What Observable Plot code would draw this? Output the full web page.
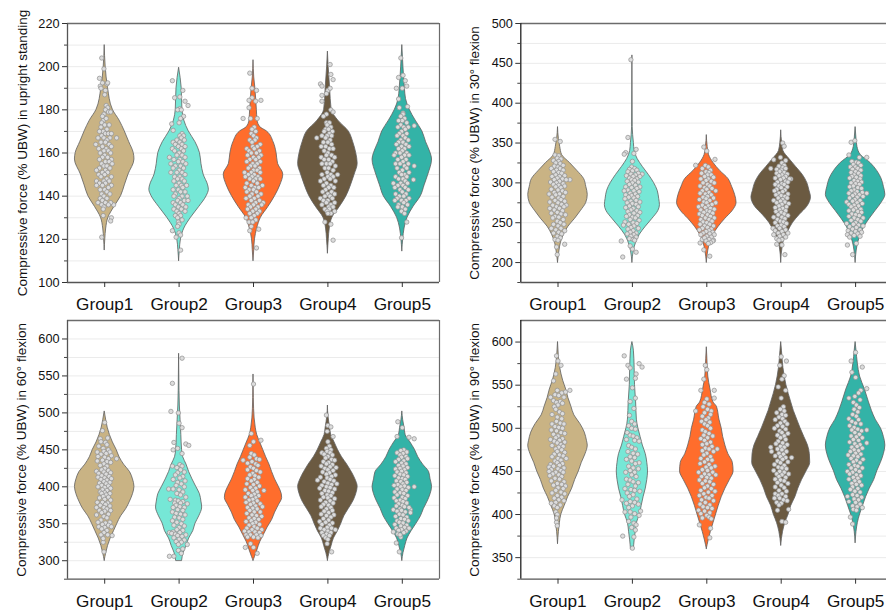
<!DOCTYPE html>
<html><head><meta charset="utf-8">
<script src="https://cdn.jsdelivr.net/npm/d3@7"></script>
<script src="https://cdn.jsdelivr.net/npm/@observablehq/plot@0.6"></script>
<style>html,body{margin:0;background:#fff}#fig{position:relative;width:886px;height:615px;overflow:hidden}#fig svg{position:absolute;max-width:none;overflow:hidden}</style>
</head><body><div id="fig"></div>
<script>
const groups = ["Group1","Group2","Group3","Group4","Group5"];
const colors = ["#C9B384","#76E7D6","#FF6D2C","#6B5A41","#33B3A7"];

// Violin outlines: [value, half width in % of the group spacing]
const a1v=[[210,0],[200,1.3],[190,4.5],[180,11],[175,20],[170,27],[165,33],[160,39],[157,40],[150,32],[145,27],[140,22],[135,13],[130,5],[125,2],[120,.8],[115,0]];
const a2v=[[199.5,0],[190,3.5],[180,4.5],[175,7],[170,13],[165,22],[160,28],[155,30],[150,33],[145,39],[143,40],[140,37],[135,27],[130,16],[125,7],[120,2.5],[115,1],[110,0]];
const a3v=[[203,0],[195,1],[190,2.5],[180,4.5],[175,5.5],[172,9],[170,18],[165,27],[160,31],[155,33],[150,40],[145,36],[140,29],[135,20],[130,10],[125,5],[120,2],[115,1],[110,0]];
const a4v=[[207,0],[200,1],[190,3],[180,5],[175,14],[170,28],[165,34],[160,38],[155,40],[150,36],[145,31],[140,25],[135,16],[130,6],[125,2.5],[120,1.2],[113.5,0]];
const a5v=[[210,0],[200,1.5],[190,3.5],[185,5],[180,10],[175,18],[170,27],[165,32],[160,38],[157,40],[150,35],[145,30],[140,25],[135,15],[130,7],[125,3],[120,1.2],[114.5,0]];
const b1v=[[370,0],[355,1.2],[345,3],[335,5.5],[325,16],[315,26],[305,35],[295,38],[285,40],[275,38],[265,31],[255,23],[245,14],[235,8],[225,4],[215,2],[200,0]];
const b2v=[[460,0],[370,.4],[350,2],[340,3],[330,7],[320,14],[310,22],[300,29],[290,34],[280,36],[272,37],[265,35],[255,27],[245,18],[235,10],[225,5],[215,2],[200,0]];
const b3v=[[360,0],[345,1.2],[335,3],[325,9],[315,18],[305,29],[295,34],[285,38],[275,40],[265,35],[255,25],[245,16],[235,9],[225,4.5],[215,2],[200,0]];
const b4v=[[366,0],[350,1.2],[340,3],[330,11],[320,20],[310,29],[300,35],[290,38],[282,40],[270,35],[260,25],[250,16],[240,10],[230,4.5],[220,2],[200,0]];
const b5v=[[370,0],[355,1.2],[345,2.5],[335,7],[325,20],[315,29],[305,35],[295,38],[285,40],[275,35],[265,27],[255,19],[245,12],[235,7],[225,3.5],[215,1.5],[200,0]];
const c1v=[[502,0],[490,2],[480,4],[470,7],[460,11],[450,16],[440,20],[430,26],[420,34],[410,38],[400,40],[390,38],[380,34],[370,29],[360,22],[350,17],[340,12.5],[330,8],[320,4.5],[310,2],[300,0]];
const c2v=[[580,0],[530,.5],[510,1],[490,2],[470,3],[450,4],[440,5.5],[430,10],[420,13.5],[410,18],[400,23],[390,28],[380,30],[372,31],[360,27],[350,22],[340,19],[330,13.5],[320,10],[310,6],[300,4]];
const c3v=[[552,0],[520,.4],[505,.8],[480,3],[470,5],[460,9],[450,13],[440,17],[430,21.5],[420,25],[410,29],[400,34],[390,38],[385,38.5],[375,34],[365,29],[355,25],[345,19],[335,14],[325,9],[315,5.5],[305,2],[300,0]];
const c4v=[[510,0],[495,.8],[480,3],[470,4.5],[460,9],[450,13.5],[440,19],[430,26],[420,32],[410,37],[400,40],[390,38],[380,34],[370,28],[360,22],[350,18],[340,13.5],[330,8],[320,5],[310,2],[300,0]];
const c5v=[[502,0],[490,1.2],[480,3],[470,4.5],[460,11],[450,17],[440,21.5],[430,28],[420,36],[410,38],[400,40],[390,38],[380,34],[370,29],[360,25],[350,19],[340,12.5],[330,7],[320,4],[310,1.5],[300,0]];
const d1v=[[600,0],[585,1],[570,3],[555,7],[545,11],[535,14],[525,18],[515,22],[505,30],[495,36],[485,39],[480,40],[470,37],[460,32],[450,28],[440,23],[430,19],[420,13.5],[410,9],[400,4.5],[390,2.5],[380,1.2],[366,0]];
const d2v=[[600,0],[590,2],[570,3],[550,3.5],[530,5],[510,6],[500,8],[490,11],[480,14],[470,18],[460,20],[450,21],[440,20],[430,18],[420,15],[410,12.5],[400,10],[390,6],[380,4.5],[370,3],[360,2]];
const d3v=[[594,0],[580,.8],[560,2],[545,5],[530,9],[525,13.5],[510,17],[500,20],[490,22],[480,25],[470,29],[460,35],[450,36],[440,31],[430,25],[420,20],[410,16],[400,12.5],[390,9],[380,5.5],[370,2.5],[360,0]];
const d4v=[[600,0],[590,1],[570,3],[550,7],[530,13.5],[520,17],[510,21.5],[500,26],[490,31],[480,36],[470,38.5],[460,39],[450,34],[440,28],[430,23],[420,19],[410,13.5],[400,10],[390,5.5],[380,2.5],[364,0]];
const d5v=[[600,0],[590,1.2],[575,3],[560,6],[545,12.5],[530,18],[520,22],[510,27],[500,34],[490,38],[480,40],[470,38],[460,34],[450,29],[440,25],[430,19],[420,14],[410,10],[400,6],[390,3],[380,1.2],[367,0]];

// Scatter: [offset from the group centre in % of spacing, value]
const a1d=[[-4,204],[-1,199],[-7,194.6],[3,192],[-6,191],[-5,190],[1,189],[-3,192.5],[0,187],[4,192.5],[16,167],[9,130],[8,128.5],[-2,131],[-4,121],[12,136],[2,182],[4,181],[1,180],[5,179],[-1,178],[-3,177],[8,179],[-2,175],[-4,174],[2,176],[0,173],[-5,172],[6,173],[3,171],[-2,170],[-7,170],[1,169],[5,169],[9,169],[-4,168],[7,167],[-1,167],[3,166],[-9,167],[-5,165],[1,165],[6,164],[-3,163],[-12,164],[9,163],[-8,162],[2,162],[-1,161],[5,161],[-6,160],[8,160],[0,159],[-3,158],[4,158],[9,157],[-7,157],[1,156],[6,156],[-4,155],[-1,154],[3,154],[10,155],[-7,153],[7,153],[1,152],[-11,152],[-3,151],[4,151],[-8,150],[0,150],[9,149],[-5,149],[3,148],[-1,147],[6,147],[-11,147],[-7,146],[1,146],[9,145],[-3,145],[-11,145],[5,144],[-6,143],[0,143],[3,142],[-4,141],[7,141],[-1,140],[-6,139],[3,139],[-3,138],[1,137],[8,137],[-9,137],[-4,136],[5,136],[-1,135],[-2,134]];
const a2d=[[-9,193.5],[5,189],[-6,185.6],[1,186],[8,184],[12,182],[1,180.5],[-2,180],[3,180],[6,177],[2,176],[0,174],[-10,173.5],[-8,170.5],[-9,124],[0,123],[-4,121],[2,122],[2,115],[4,169],[1,168],[6,168],[3,167],[-3,166],[7,166],[-8,165],[1,165],[4,164],[-5,164],[8,163],[-1,163],[-9,162],[3,162],[6,161],[-6,161],[0,160],[-13,158],[4,159],[-3,159],[8,158],[1,157],[-7,157],[5,156],[-1,156],[-11,155],[9,155],[2,154],[-5,154],[-8,153],[6,153],[0,152],[4,151],[-3,151],[-11,151],[8,150],[1,149],[-6,149],[4,148],[-2,148],[7,147],[-7,147],[0,146],[3,145],[10,145],[-4,145],[-8,143],[5,144],[-1,143],[8,142],[2,142],[-5,141],[11,140],[-7,140],[4,140],[0,139],[-2,138],[7,138],[12,138],[-8,137],[2,137],[5,136],[-5,136],[9,135],[-1,135],[-7,134],[3,134],[-3,133],[8,133],[0,132],[-5,131],[2,131],[-2,130],[4,129],[-1,128],[0,127],[-2,126]];
const a3d=[[-5,197],[-2,190],[4,189],[-2,185.6],[-6,184.4],[10,184.4],[3,184],[-6,181],[-14,176],[-4,176],[5,176],[-3,126],[7,124.7],[-5,124],[4,116],[1,172],[-2,171],[3,170],[-3,169],[0,168],[4,167],[-5,166],[2,166],[-2,165],[9,164],[5,163],[-1,163],[-9,162],[1,162],[8,161],[-6,161],[4,160],[-3,160],[10,159],[-8,159],[0,158],[7,158],[-5,157],[3,157],[-9,156],[9,156],[-1,155],[5,155],[-4,154],[2,154],[8,153],[-7,153],[0,152],[5,152],[-3,151],[9,151],[-12,151],[1,150],[-7,150],[6,149],[-2,149],[-11,149],[3,148],[-5,148],[9,148],[0,147],[-9,146],[5,146],[-3,145],[12,145],[2,144],[-11,144],[7,144],[-6,143],[0,143],[4,142],[-9,142],[-2,141],[10,141],[6,140],[-5,140],[1,139],[-10,139],[8,138],[-3,138],[3,137],[13,137],[-7,136],[11,136],[0,136],[6,135],[-4,135],[-8,134],[3,134],[8,133],[-1,133],[-5,132],[5,132],[1,131],[-10,130],[-3,130],[3,129],[-6,128],[-1,128]];
const a4d=[[3,201],[4,196.4],[7,194],[-10,192],[-8,191],[0,189],[3,190],[-2,187.5],[-8,186.7],[-8,184],[4,180],[7,179],[-2,178],[-6,177],[-15,167],[-4,128],[4,127],[7,119.6],[-2,174],[2,174],[-1,173],[4,172],[-3,171],[1,171],[6,170],[-5,170],[2,169],[-1,168],[5,168],[-8,168],[-3,167],[3,166],[-6,165],[0,165],[5,164],[-3,163],[-9,163],[2,162],[7,162],[-5,161],[0,160],[-2,159],[5,159],[-9,158],[9,158],[1,157],[-5,157],[6,156],[-2,155],[-8,155],[3,155],[10,154],[-4,153],[1,153],[7,152],[-1,151],[4,150],[-8,150],[13,150],[0,149],[7,149],[-5,148],[3,148],[10,147],[-10,147],[-2,146],[4,145],[-6,145],[1,144],[8,144],[-3,143],[5,142],[-7,142],[0,141],[9,141],[-4,140],[3,140],[-10,139],[6,139],[0,138],[-6,138],[9,137],[-2,137],[4,136],[-8,136],[1,135],[7,135],[-4,134],[2,134],[9,133],[-1,133],[4,132],[0,132]];
const a5d=[[-2,204],[1,196],[-5,195],[4,193.5],[6,191],[-8,190],[0,190],[-5,185],[7,181.5],[-4,181],[1,178.5],[16,172.6],[16,154],[15,147.6],[-12,146],[6,128],[-1,120.7],[1,178],[-2,177],[3,176],[0,175],[-5,175],[6,174],[-2,173],[2,172],[-6,172],[8,172],[4,171],[-1,170],[-4,169],[6,169],[1,168],[-7,168],[4,167],[-2,166],[8,166],[-5,165],[1,165],[5,164],[-8,164],[-1,163],[9,163],[3,162],[-5,162],[0,161],[6,160],[-9,160],[-3,160],[3,159],[-11,159],[9,159],[-1,158],[-6,157],[5,157],[1,156],[-9,155],[8,155],[-3,155],[3,154],[-7,153],[6,153],[0,152],[-4,151],[9,151],[3,150],[-1,150],[-9,149],[6,149],[1,148],[-5,148],[4,147],[-2,146],[7,146],[-6,145],[1,145],[-10,144],[4,144],[-3,143],[8,143],[0,142],[-9,141],[5,141],[-4,140],[2,140],[9,139],[-7,139],[-1,138],[5,138],[-10,138],[2,137],[-5,136],[7,136],[0,135],[4,134],[-6,135],[-1,133],[3,132]];
const b1d=[[-4,354.6],[3,352],[16,304],[9,223],[-2,219.6],[-1,210],[11,272],[-4,335],[1,334],[-1,331],[4,330],[-6,328],[1,327],[-3,325],[3,324],[7,322],[-5,321],[0,320],[-9,318],[3,318],[-2,316],[7,316],[-6,314],[1,313],[5,312],[-3,310],[9,309],[-8,308],[2,308],[-1,306],[6,305],[-5,304],[11,304],[2,302],[-10,301],[-2,300],[7,299],[-6,298],[1,297],[9,296],[-3,295],[4,294],[-9,292],[0,291],[6,290],[-5,288],[10,288],[2,286],[-12,286],[-3,285],[7,283],[-8,282],[1,281],[4,279],[-4,278],[9,277],[-11,276],[0,275],[5,273],[-7,272],[-2,270],[8,270],[-11,268],[2,268],[-5,266],[6,265],[-1,263],[-9,262],[4,261],[10,260],[-4,258],[1,257],[-7,256],[7,254],[-1,252],[3,250],[-6,248],[8,248],[0,246],[-9,243],[4,243],[-3,241],[9,240],[1,238],[-6,237],[5,236],[-1,233],[3,231],[-4,229],[0,228]];
const b2d=[[-2,454.5],[-6,357],[-9,338],[-11,336],[5,342],[2,337],[0,327],[-15,227],[-13,207],[5,213],[0,217],[-3,221],[13,311],[-1,320],[3,318],[-4,317],[6,316],[0,315],[-6,314],[8,312],[-2,311],[4,310],[-8,309],[1,308],[10,308],[-4,306],[6,305],[-1,304],[3,303],[-7,302],[8,301],[0,300],[-4,298],[4,297],[-9,295],[10,295],[-1,294],[6,293],[-6,291],[2,290],[-11,290],[9,289],[-3,287],[4,286],[-9,285],[-1,284],[7,283],[-5,282],[2,281],[-10,280],[5,278],[-2,277],[10,276],[-7,275],[0,274],[5,273],[-4,271],[8,270],[-9,269],[1,268],[-2,266],[6,265],[-6,264],[10,263],[2,262],[-4,260],[7,259],[-8,258],[0,257],[4,256],[-3,254],[9,253],[-10,251],[1,250],[6,249],[-5,248],[-12,247],[2,246],[-2,244],[8,243],[-6,242],[1,240],[-3,238],[5,237],[-7,236],[2,235],[-2,233],[5,232],[-4,230],[1,229],[3,228]];
const b3d=[[-4,345],[0,340],[11,329.5],[-15,322],[-9,224.6],[-4,216],[4,208],[9,228],[-6,229],[-2,322],[2,320],[-6,318],[5,316],[-1,314],[3,313],[-7,312],[1,310],[6,310],[-3,308],[9,307],[-8,305],[2,305],[-1,303],[6,302],[-5,300],[10,300],[1,298],[-9,296],[4,296],[-3,294],[7,293],[0,292],[-6,290],[12,290],[3,288],[-9,287],[-2,286],[6,285],[1,283],[-5,282],[9,281],[-1,280],[-10,279],[4,278],[-4,276],[12,275],[0,275],[7,273],[-6,272],[2,271],[-11,270],[-2,269],[5,268],[10,267],[-8,266],[0,265],[4,264],[-4,263],[8,262],[-10,261],[1,260],[-6,259],[5,258],[-2,256],[10,256],[-8,254],[3,254],[7,252],[-5,251],[0,250],[-9,248],[4,248],[9,246],[-3,246],[1,244],[-6,243],[6,242],[-10,241],[3,240],[-1,239],[8,238],[-5,237],[4,236],[10,235],[-8,235],[0,233],[6,232],[-3,231],[3,229],[8,227],[-1,227],[5,225],[2,224]];
const b4d=[[2,350],[4,346],[-1,332],[-10,329],[6,328],[-14,318],[13,305],[-6,223],[1,222],[5,210],[1,325],[4,322],[-3,321],[2,319],[6,318],[-6,317],[0,316],[-2,314],[4,313],[-6,312],[8,311],[1,310],[-3,309],[6,308],[-8,306],[3,306],[11,305],[-1,304],[6,302],[-5,301],[9,301],[1,299],[-8,298],[4,298],[-3,296],[8,295],[0,294],[-6,292],[5,291],[-9,290],[2,289],[-3,287],[9,286],[-7,285],[0,284],[5,283],[-4,281],[8,281],[2,279],[-10,278],[-1,277],[5,276],[-6,275],[10,274],[1,273],[-3,271],[7,270],[-8,269],[2,268],[-2,266],[6,265],[-7,264],[0,263],[4,261],[-4,260],[9,259],[-10,257],[1,257],[5,255],[-5,254],[-1,252],[3,251],[-8,250],[7,249],[0,247],[-5,246],[4,245],[-11,243],[-2,243],[6,241],[-8,240],[1,239],[-4,237],[9,237],[-10,235],[3,235],[-2,233],[6,232],[-6,230],[1,229],[-3,228]];
const b5d=[[-6,351],[-1,353],[-9,335],[15,332],[5,332],[15,287],[-12,276],[-11,222],[-4,210],[1,224],[-5,327],[1,326],[4,325],[-3,323],[7,322],[-7,320],[0,320],[3,318],[-4,317],[7,316],[0,314],[-6,313],[4,312],[-2,310],[7,309],[-5,308],[1,307],[-8,306],[6,305],[-2,303],[3,302],[8,301],[-6,300],[0,299],[5,298],[-3,296],[-8,295],[3,294],[8,293],[-2,291],[-6,290],[2,289],[9,288],[-9,287],[-1,286],[5,285],[-4,284],[10,283],[2,282],[-8,281],[-1,279],[6,278],[-4,277],[2,275],[9,274],[-9,273],[-2,272],[4,271],[-6,270],[0,268],[7,267],[-3,266],[-9,265],[3,264],[8,263],[-5,261],[0,260],[5,259],[-9,258],[-2,256],[10,256],[3,254],[-6,253],[7,252],[0,250],[-12,249],[-3,248],[4,247],[10,246],[-8,245],[1,244],[-4,242],[6,241],[-10,240],[0,239],[8,238],[-6,237],[3,236],[-11,235],[-2,234],[6,233],[-8,232]];
const c1d=[[0,487],[-3,476],[-6,465],[4,466],[16,438],[10,334],[-3,332],[-1,312],[-2,325],[-5,461],[1,460],[3,457],[-8,455],[-2,452],[5,450],[-1,448],[-10,447],[7,447],[2,445],[-5,444],[9,442],[-9,441],[0,440],[5,438],[-3,436],[-10,435],[3,434],[8,433],[-1,431],[-6,429],[3,428],[0,425],[-4,423],[5,422],[-11,421],[-1,420],[8,419],[-8,418],[2,417],[-4,415],[6,414],[-9,413],[0,412],[9,411],[-5,410],[3,409],[-1,407],[7,406],[-7,405],[2,404],[-4,402],[5,401],[-9,400],[0,399],[8,398],[-3,396],[3,395],[-6,393],[0,392],[-4,391],[7,391],[2,389],[-2,387],[5,386],[-7,385],[0,383],[8,382],[-10,379],[-3,379],[4,378],[1,376],[-6,375],[7,374],[-11,372],[-1,372],[3,370],[-7,368],[8,368],[0,367],[-4,365],[5,363],[-11,362],[-1,360],[3,358],[-5,355],[-9,352],[7,352],[1,351],[-3,349],[5,348],[-8,346],[9,346],[0,345],[-4,343],[3,341],[-1,338],[4,335],[-5,335],[-2,330]];
const c2d=[[4,574],[-9,540],[-11,502],[-1,500],[0,486],[4,480],[-7,460],[9,458],[13,456],[-8,450],[-2,452],[4,445],[-9,428],[11,322],[-13,306],[-7,306],[-1,314],[3,310],[5,316],[1,430],[4,428],[-3,426],[2,423],[7,420],[-2,419],[-5,416],[5,414],[1,412],[-8,410],[8,408],[-2,406],[3,404],[-4,402],[7,400],[-14,397],[-8,397],[0,396],[5,393],[-3,391],[2,389],[-12,383],[9,386],[-5,382],[-1,381],[5,380],[-6,378],[2,378],[11,377],[-4,375],[-8,372],[1,373],[7,372],[-2,369],[5,368],[-9,366],[-4,364],[2,363],[8,362],[-6,359],[0,358],[5,356],[-9,354],[-3,352],[3,350],[-7,348],[7,347],[0,345],[-3,342],[5,341],[-8,339],[1,338],[-13,338],[-10,337],[-5,336],[9,335],[-2,334],[4,333],[-7,331],[0,329],[7,328],[-4,326],[3,325],[-1,322]];
const c3d=[[0,539],[-3,472],[10,463],[0,461],[-5,456],[-14,436],[-11,318],[5,310],[0,318],[-4,323],[-3,445],[1,443],[-5,440],[4,438],[8,437],[-2,434],[-8,432],[3,431],[6,429],[-4,427],[0,425],[-8,423],[4,422],[9,420],[-1,418],[-5,416],[2,415],[7,413],[-8,411],[1,410],[-3,408],[5,406],[-9,404],[0,403],[8,401],[-4,399],[3,398],[-11,396],[-1,395],[14,395],[5,393],[-7,391],[1,390],[-3,388],[7,388],[-11,386],[3,385],[-1,383],[-6,382],[5,381],[-10,379],[0,378],[9,377],[-4,376],[3,374],[12,373],[-8,372],[-1,371],[5,370],[-5,368],[1,366],[9,366],[-9,364],[-2,362],[4,361],[11,360],[-6,358],[1,357],[7,356],[-3,354],[-10,353],[3,352],[-1,350],[8,349],[-6,348],[1,346],[-9,344],[5,344],[-2,342],[11,342],[-12,340],[-6,339],[2,339],[8,338],[-10,335],[-4,335],[4,335],[10,334],[-8,332],[0,332],[6,331]];
const c4d=[[-2,497],[0,483],[4,481],[-1,475],[7,468],[0,461],[5,312],[-1,323],[2,455],[-2,452],[4,450],[-1,448],[-8,446],[3,446],[-5,444],[6,443],[0,441],[-3,439],[5,437],[9,436],[-6,434],[1,433],[-2,431],[6,430],[-9,428],[3,427],[11,426],[-4,425],[0,423],[7,422],[-7,420],[2,419],[-2,417],[10,416],[5,414],[-10,413],[-1,412],[3,410],[-14,409],[8,408],[-5,407],[0,405],[12,404],[5,403],[-8,402],[-2,400],[3,399],[-11,398],[9,397],[-4,395],[1,394],[6,392],[-8,391],[-1,389],[4,388],[-6,386],[0,385],[9,384],[-10,382],[3,381],[-3,379],[7,378],[-6,376],[1,375],[-9,373],[4,372],[-2,370],[6,368],[-5,367],[1,365],[-9,363],[8,362],[-2,361],[4,359],[-6,357],[1,355],[-11,353],[-3,352],[6,351],[-8,349],[2,348],[-1,345],[-10,344],[5,344],[-5,342],[10,342],[0,340],[-8,338],[4,338],[-2,336],[-6,334],[2,334],[-3,331],[0,329]];
const c5d=[[-6,488],[0,480],[9,467],[16,465],[-7,468],[16,400],[-12,369],[11,369],[-8,324],[-4,312],[-2,332],[2,450],[-2,449],[6,447],[-7,446],[1,445],[-3,443],[5,441],[-1,440],[7,438],[-5,437],[2,435],[-9,434],[-1,432],[5,431],[-5,429],[1,428],[7,426],[-3,425],[-9,424],[3,423],[-1,421],[-7,420],[5,419],[-3,417],[2,416],[-10,415],[7,414],[-5,412],[0,411],[4,410],[-8,408],[-2,407],[6,406],[1,404],[-6,403],[-11,402],[3,401],[-2,400],[8,399],[-7,397],[0,396],[5,395],[-10,393],[-3,392],[2,391],[-7,389],[7,388],[0,386],[-11,385],[4,384],[-3,382],[-8,381],[1,380],[6,378],[-5,377],[0,375],[-8,374],[3,373],[9,372],[-3,370],[-1,368],[-7,367],[4,366],[11,365],[-4,363],[1,362],[-9,360],[6,359],[-2,357],[3,356],[-7,354],[8,354],[-4,352],[1,351],[-10,349],[6,348],[-2,347],[3,345],[-8,344],[9,344],[-1,342],[-5,341],[5,340],[-12,339],[2,338],[-6,336],[-3,335]];
const d1d=[[-2,584],[0,578],[4,573],[-3,563],[-6,555],[16,544],[10,542],[-1,544],[-10,536],[-2,391],[-1,387],[5,541],[-4,539],[1,538],[8,536],[-6,532],[3,531],[-2,530],[6,529],[0,527],[-5,525],[-3,522],[2,519],[6,517],[-8,516],[-1,513],[5,511],[-2,508],[3,506],[-8,505],[8,505],[-4,502],[1,501],[6,500],[-9,498],[-2,497],[4,495],[9,494],[-6,493],[0,491],[-3,489],[6,488],[-10,487],[2,486],[-5,485],[9,484],[-1,483],[4,481],[-8,480],[7,479],[1,478],[-3,476],[5,475],[-1,473],[9,472],[-5,470],[2,469],[7,468],[-8,467],[0,465],[11,465],[4,463],[-4,462],[-1,460],[6,459],[-10,458],[2,457],[-6,456],[-12,455],[8,454],[0,453],[-9,452],[4,451],[-12,450],[-3,449],[7,449],[-7,447],[1,446],[-11,445],[5,444],[-4,442],[2,441],[-9,439],[8,438],[-1,436],[5,435],[-6,434],[10,433],[0,431],[7,430],[-3,428],[4,426],[-8,425],[9,424],[-1,422],[5,420],[-5,419],[1,417],[8,416],[-3,414],[-9,413],[3,411],[-5,410],[-1,408],[-3,403],[-1,400],[-2,396]];
const d2d=[[-11,584],[9,575],[13,571],[-6,573],[-3,570],[5,563],[-8,557],[4,558],[0,547],[4,535],[-3,531],[2,523],[-4,515],[-13,375],[4,382],[2,374],[0,361],[-1,508],[3,505],[-5,503],[-1,500],[4,499],[-7,495],[-3,492],[1,491],[6,489],[-8,487],[3,486],[9,485],[-5,480],[-1,478],[4,476],[-6,473],[1,471],[7,470],[-3,467],[3,466],[-8,464],[-1,462],[9,460],[4,459],[-5,456],[1,454],[8,453],[-3,451],[-9,449],[3,449],[-1,446],[5,444],[-8,441],[-3,440],[1,438],[8,437],[-6,435],[4,433],[-10,430],[-2,429],[3,428],[10,427],[-7,425],[1,423],[-4,421],[6,418],[-14,417],[-3,415],[3,414],[-8,413],[8,412],[0,410],[-5,408],[11,404],[-10,403],[-3,403],[3,401],[9,399],[-2,397],[-5,392],[2,390],[5,388],[-1,385]];
const d3d=[[-2,573],[0,568],[-4,557],[10,544],[-8,544],[10,535],[0,534],[-15,520],[14,476],[-10,388],[5,384],[4,373],[-3,530],[3,528],[-5,525],[1,522],[6,520],[-3,518],[5,516],[-6,514],[2,512],[-1,510],[-7,508],[4,507],[-3,505],[1,503],[5,500],[-6,498],[-2,496],[3,494],[-4,492],[8,491],[1,489],[-8,488],[-3,486],[5,484],[0,482],[-6,481],[7,479],[-2,477],[3,476],[-6,474],[9,473],[0,471],[-4,469],[5,467],[-8,465],[1,464],[7,463],[-3,461],[-9,459],[3,458],[11,456],[-1,455],[6,454],[-6,452],[1,451],[-11,449],[8,449],[-3,447],[3,446],[12,446],[-7,444],[0,443],[6,442],[-10,440],[-2,439],[4,438],[-6,436],[9,435],[1,433],[-3,431],[6,430],[-8,428],[11,427],[2,426],[-4,424],[-10,422],[7,422],[-1,420],[3,419],[-7,417],[9,416],[-2,414],[-9,412],[4,411],[-5,409],[1,408],[7,407],[-11,405],[-3,404],[4,402],[-8,401],[0,399],[3,397],[-6,396],[6,395]];
const d4d=[[7,578],[0,583],[-2,573],[4,561],[1,557],[-4,548],[6,544],[0,535],[-14,478],[14,466],[10,406],[-5,405],[1,392],[6,391],[3,525],[-1,522],[4,520],[-6,518],[1,516],[6,515],[-3,513],[2,511],[-8,510],[5,508],[-1,506],[8,505],[-5,503],[2,502],[-9,500],[6,499],[-2,497],[1,495],[9,494],[-5,492],[4,491],[-1,489],[6,487],[-4,485],[2,483],[-7,482],[8,481],[-1,479],[4,478],[-5,476],[1,475],[-13,473],[7,473],[-3,471],[3,470],[-8,468],[-1,467],[6,466],[2,464],[-5,462],[9,461],[-1,460],[-9,458],[4,457],[-4,455],[1,454],[7,453],[-10,451],[-2,450],[4,449],[-6,447],[10,447],[1,446],[-3,444],[6,443],[-8,441],[-1,440],[4,439],[-5,437],[9,436],[0,434],[-8,432],[4,431],[-3,428],[7,427],[-8,424],[1,424],[-4,422],[6,421],[-9,419],[-2,419],[3,417],[8,416],[-6,414],[0,413],[-3,411]];
const d5d=[[0,588],[-6,578],[9,571],[-5,565],[0,559],[15,546],[7,544],[-9,535],[15,498],[15,483],[-11,421],[-7,397],[-4,389],[4,541],[-1,537],[6,533],[-3,530],[1,527],[5,524],[-2,522],[3,519],[-4,516],[1,514],[-9,511],[4,510],[-5,508],[0,506],[7,505],[-8,503],[-2,501],[3,499],[-5,498],[8,497],[-1,495],[5,493],[-6,491],[1,490],[9,489],[-3,487],[4,486],[-8,484],[-1,482],[6,481],[2,479],[-5,478],[9,477],[-2,475],[4,474],[-7,473],[0,471],[7,470],[-10,469],[-3,468],[3,467],[-6,465],[10,464],[1,463],[-3,461],[6,460],[-9,458],[-1,457],[3,456],[-6,454],[9,454],[0,452],[-11,450],[5,450],[-4,449],[-8,447],[1,446],[7,445],[-3,443],[3,442],[-9,441],[-1,439],[5,438],[-5,436],[1,435],[8,434],[-4,432],[3,430],[-7,429],[-1,427],[6,426],[-4,423],[2,422],[8,420],[-2,418],[4,417],[-9,415],[0,414],[6,412],[-4,410],[2,409],[9,408],[-3,406],[1,405]];

const titles = ["Compressive force (% UBW) in upright standing","Compressive force (% UBW) in 30° flexion","Compressive force (% UBW) in 60° flexion","Compressive force (% UBW) in 90° flexion"];
const domains = [[100,220],[175,500],[275,625],[325,625]];
const majors = [[100,120,140,160,180,200,220],[200,250,300,350,400,450,500],[300,350,400,450,500,550,600],[350,400,450,500,550,600]];
const minors = [[110,130,150,170,190,210],[175,225,275,325,375,425,475],[275,325,375,425,475,525,575],[325,375,425,475,525,575]];
const grid = [[110,120,130,140,150,160,170,180,190,200,210],[200,225,250,275,300,325,350,375,400,425,450,475],[300,325,350,375,400,425,450,475,500,525,550,575,600],[350,375,400,425,450,475,500,525,550,575,600]];
const violins = [[a1v,a2v,a3v,a4v,a5v],[b1v,b2v,b3v,b4v,b5v],[c1v,c2v,c3v,c4v,c5v],[d1v,d2v,d3v,d4v,d5v]];
const scatters = [[a1d,a2d,a3d,a4d,a5d],[b1d,b2d,b3d,b4d,b5d],[c1d,c2d,c3d,c4d,c5d],[d1d,d2d,d3d,d4d,d5d]];
const layout = [
  {left:0,  top:0,  mL:67, mT:23, h:322, mB:40, labelX:22},
  {left:450,top:0,  mL:70.3,mT:23, h:322, mB:40, labelX:24.5},
  {left:0,  top:300,mL:67, mT:20, h:315, mB:36.3, labelX:21},
  {left:450,top:300,mL:70.3,mT:20, h:315, mB:36.3, labelX:24.5}
];
const W = 445, PW = 372;
const tickFont = "Liberation Sans, Arial, sans-serif";
const fig = document.getElementById("fig");

layout.forEach((L,i)=>{
  const [y0,y1] = domains[i];
  const marks = [
    Plot.ruleY(grid[i],{stroke:"#ebebeb",strokeWidth:1}),
    ...violins[i].map((v,k)=>{
      const rows = [...v].reverse();
      return Plot.areaX(rows,{
        y:d=>d[0], x1:d=>k+1-d[1]/100, x2:d=>k+1+d[1]/100,
        fill:colors[k], stroke:"#606060", strokeWidth:.8, curve:"monotone-y"
      });
    }),
    ...scatters[i].map((pts,k)=>Plot.dot(pts,{
      x:d=>k+1+d[0]/100, y:d=>d[1], r:2.2, fill:"#dcdcdc", stroke:"#909090", strokeWidth:.7
    })),
    Plot.ruleY([y1],{stroke:"#6b6b6b",strokeWidth:1.4}),
    Plot.ruleX([5.5],{stroke:"#6b6b6b",strokeWidth:1.2}),
    Plot.ruleX([0.5],{stroke:i%2?"#222":"#555",strokeWidth:1.3}),
    Plot.ruleY([y0],{stroke:"#555",strokeWidth:1.3}),
    Plot.axisY(minors[i],{tickSize:3,tickFormat:()=>"",label:null,stroke:"#444"}),
    Plot.axisY(majors[i],{tickSize:5,tickPadding:3,fontSize:12.7,label:null,stroke:"#333",color:"#111",tickFormat:d=>String(d)}),
    Plot.axisX([1,2,3,4,5],{tickSize:5,tickPadding:10.5,fontSize:17.2,label:null,stroke:"#333",color:"#111",tickFormat:d=>groups[d-1]}),
    Plot.text([titles[i]],{frameAnchor:"left",dx:L.labelX-L.mL,rotate:-90,fontSize:13.5,fill:"#111",textAnchor:"middle"})
  ];
  const svg = Plot.plot({
    width:W, height:L.h,
    marginLeft:L.mL, marginRight:W-L.mL-PW, marginTop:L.mT, marginBottom:L.mB,
    x:{domain:[0.5,5.5],axis:null},
    y:{domain:[y0,y1],axis:null},
    style:{background:"transparent",fontFamily:tickFont},
    marks
  });
  svg.style.left = L.left+"px"; svg.style.top = L.top+"px";
  fig.appendChild(svg);
});
</script></body></html>
